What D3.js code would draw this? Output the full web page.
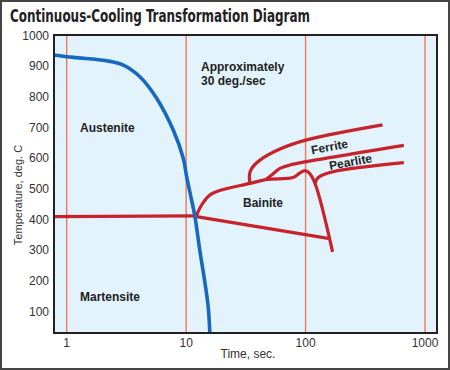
<!DOCTYPE html>
<html>
<head>
<meta charset="utf-8">
<script src="https://cdn.jsdelivr.net/npm/d3@7"></script>
<style>
  body { margin: 0; background: #fff; }
  svg { display: block; }
  .tick-label { font-family: "Liberation Sans", Arial, sans-serif; font-size: 12px; fill: #333; }
  .region { font-family: "Liberation Sans", Arial, sans-serif; font-size: 12px; font-weight: bold; fill: #222; }
</style>
</head>
<body>
<div id="chart"></div>
<script>
// Tick values
const xTicks = [1, 10, 100, 1000];
const yTicks = [100, 200, 300, 400, 500, 600, 700, 800, 900, 1000];

// Cooling curve (time sec, temperature C)
const coolingCurve = [[0.78, 935], [1.14, 927], [2.16, 916], [2.98, 902], [4.1, 864], [5.66, 794],
    [7.8, 690], [9.46, 598], [10.1, 538], [11.1, 462], [11.85, 408], [13.0, 299], [14.4, 190],
    [15.3, 114], [15.8, 28]];

// Martensite start
const msLine = [[0.78, 408], [11.85, 410]];
// Bainite finish
const bainiteFinish = [[12.2, 408], [154.5, 337]];
// Bainite start / outer boundary
const bainiteStart = [[12.2, 408], [12.6, 424], [13.8, 452], [15.8, 478], [18.5, 491], [34.2, 516],
    [47.5, 529], [78.3, 535], [89.6, 550], [98.7, 558], [106.6, 551], [119.7, 517], [168.3, 293]];
// Ferrite start
const ferriteStart = [[34.2, 516], [33.9, 544], [35.5, 566], [41.5, 592], [61, 628], [102, 658], [441, 707]];
// Pearlite start
const pearliteStart = [[46.5, 529], [53.3, 547], [61, 565], [73.9, 576], [102, 587], [665, 640]];
// Pearlite finish
const pearliteFinish = [[119.7, 516], [126.8, 534], [140, 544], [181.6, 557], [665, 584]];

const width = 450, height = 370;
const plot = { left: 54, right: 437, top: 35, bottom: 333 };

const svg = d3.select("#chart").append("svg")
    .attr("width", width)
    .attr("height", height);

// outer frame
svg.append("rect")
    .attr("x", 1).attr("y", 1)
    .attr("width", width - 2).attr("height", height - 2)
    .attr("fill", "#fff")
    .attr("stroke", "#444")
    .attr("stroke-width", 2);

svg.append("text")
    .attr("x", 10)
    .attr("y", 22)
    .attr("textLength", 300)
    .attr("lengthAdjust", "spacingAndGlyphs")
    .style("font-family", "'Liberation Sans Narrow', 'DejaVu Sans Condensed', Arial, sans-serif")
    .style("font-size", "17px")
    .style("font-weight", "bold")
    .style("fill", "#222")
    .text("Continuous-Cooling Transformation Diagram");

const xScale = d3.scaleLog()
    .domain([1, 1000])
    .range([66.7, 425]);

const yScale = d3.scaleLinear()
    .domain([100, 1000])
    .range([311, 35]);

svg.append("rect")
    .attr("x", plot.left)
    .attr("y", plot.top)
    .attr("width", plot.right - plot.left)
    .attr("height", plot.bottom - plot.top)
    .attr("fill", "#e2f3fb");

// vertical grid at decades
svg.selectAll("line.grid")
    .data(xTicks)
    .enter()
    .append("line")
    .attr("class", "grid")
    .attr("x1", d => xScale(d))
    .attr("x2", d => xScale(d))
    .attr("y1", plot.top)
    .attr("y2", plot.bottom)
    .attr("stroke", "#f07a5c")
    .attr("stroke-width", 1.4);

const line = d3.line()
    .x(d => xScale(d[0]))
    .y(d => yScale(d[1]))
    .curve(d3.curveCatmullRom.alpha(0.5));

const g = svg.append("g");

const redCurves = [msLine, bainiteFinish, bainiteStart, ferriteStart, pearliteStart, pearliteFinish];
g.selectAll("path.red")
    .data(redCurves)
    .enter()
    .append("path")
    .attr("class", "red")
    .attr("d", d => line(d))
    .attr("fill", "none")
    .attr("stroke", "#c8232c")
    .attr("stroke-width", 3.2)
    .attr("stroke-linejoin", "round");

g.append("path")
    .attr("d", line(coolingCurve))
    .attr("fill", "none")
    .attr("stroke", "#1769bf")
    .attr("stroke-width", 3.6);

// plot border
svg.append("rect")
    .attr("x", plot.left)
    .attr("y", plot.top)
    .attr("width", plot.right - plot.left)
    .attr("height", plot.bottom - plot.top)
    .attr("fill", "none")
    .attr("stroke", "#222")
    .attr("stroke-width", 2);

// tick labels
svg.selectAll("text.ytick")
    .data(yTicks)
    .enter()
    .append("text")
    .attr("class", "tick-label")
    .attr("x", 49)
    .attr("y", d => yScale(d) + 4.5)
    .attr("text-anchor", "end")
    .text(d => d);

svg.selectAll("text.xtick")
    .data(xTicks)
    .enter()
    .append("text")
    .attr("class", "tick-label")
    .attr("x", d => xScale(d))
    .attr("y", 347)
    .attr("text-anchor", "middle")
    .text(d => d);

svg.append("text")
    .attr("class", "tick-label")
    .attr("x", 248)
    .attr("y", 358)
    .attr("text-anchor", "middle")
    .text("Time, sec.");

svg.append("text")
    .attr("class", "tick-label")
    .attr("transform", "translate(22,195) rotate(-90)")
    .attr("text-anchor", "middle")
    .style("font-size", "11px")
    .text("Temperature, deg. C");

// region labels
const labels = [
    { text: "Austenite", x: 80, y: 132, r: 0 },
    { text: "Martensite", x: 80, y: 301, r: 0 },
    { text: "Bainite", x: 243, y: 207, r: 0 },
    { text: "Approximately", x: 201, y: 71, r: 0 },
    { text: "30 deg./sec", x: 201, y: 84.5, r: 0 },
    { text: "Ferrite", x: 312, y: 154.5, r: -11 },
    { text: "Pearlite", x: 330, y: 170, r: -10.5 }
];

svg.selectAll("text.region")
    .data(labels)
    .enter()
    .append("text")
    .attr("class", "region")
    .attr("transform", d => `translate(${d.x},${d.y}) rotate(${d.r})`)
    .text(d => d.text);
</script>
</body>
</html>
